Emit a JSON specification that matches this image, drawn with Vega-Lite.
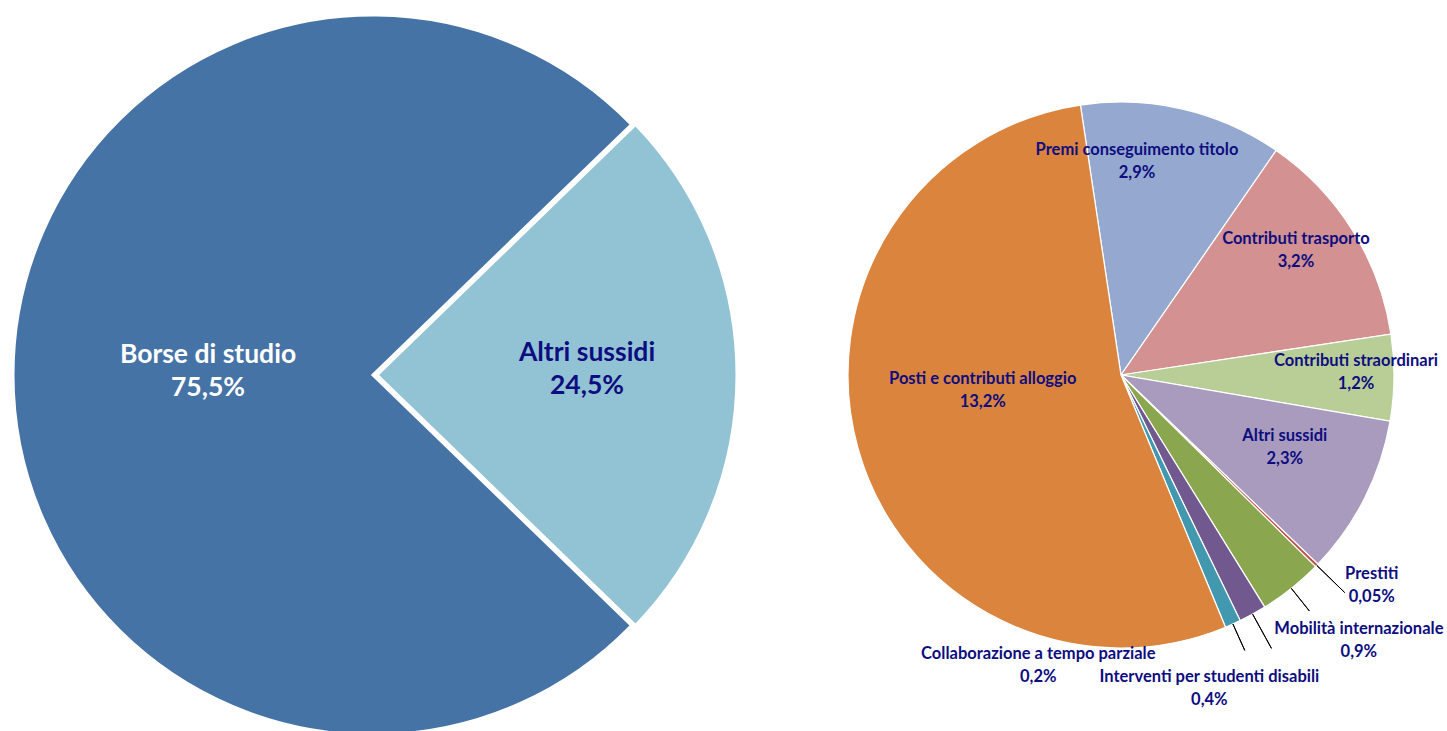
{
  "$schema": "https://vega.github.io/schema/vega-lite/v6.json",
  "padding": 0,
  "bounds": "flush",
  "spacing": 50,
  "background": "#ffffff",
  "config": {
    "view": {"stroke": null},
    "style": {
      "big": {"font": "Lato", "fontSize": 26.5, "fontWeight": "bold", "lineBreak": "\n", "lineHeight": 33, "align": "center", "baseline": "middle"},
      "lbl": {"font": "Lato", "fontSize": 16.5, "fontWeight": "bold", "lineBreak": "\n", "lineHeight": 23, "align": "center", "baseline": "middle"}
    }
  },
  "datasets": {
    "main": [
      {"k": 1, "name": "Altri sussidi", "value": 24.5, "label": "Altri sussidi\n24,5%"},
      {"k": 2, "name": "Borse di studio", "value": 75.5, "label": "Borse di studio\n75,5%"}
    ],
    "detail": [
      {"k": 1, "name": "Premi conseguimento titolo", "value": 2.94, "label": "Premi conseguimento titolo\n2,9%"},
      {"k": 2, "name": "Contributi trasporto", "value": 3.18, "label": "Contributi trasporto\n3,2%"},
      {"k": 3, "name": "Contributi straordinari", "value": 1.25, "label": "Contributi straordinari\n1,2%"},
      {"k": 4, "name": "Altri sussidi", "value": 2.32, "label": "Altri sussidi\n2,3%"},
      {"k": 5, "name": "Prestiti", "value": 0.05, "label": "Prestiti\n0,05%"},
      {"k": 6, "name": "Mobilità internazionale", "value": 0.93, "label": "Mobilità internazionale\n0,9%"},
      {"k": 7, "name": "Interventi per studenti disabili", "value": 0.40, "label": "Interventi per studenti disabili\n0,4%"},
      {"k": 8, "name": "Collaborazione a tempo parziale", "value": 0.23, "label": "Collaborazione a tempo parziale\n0,2%"},
      {"k": 9, "name": "Posti e contributi alloggio", "value": 13.20, "label": "Posti e contributi alloggio\n13,2%"}
    ]
  },
  "resolve": {"scale": {"theta": "independent", "color": "independent"}},
  "hconcat": [
    {
      "width": 746,
      "height": 750,
      "data": {"name": "main"},
      "encoding": {
        "theta": {"field": "value", "type": "quantitative", "stack": true, "scale": {"range": [0.8011, 7.0843]}},
        "order": {"field": "k", "type": "quantitative"},
        "detail": {"field": "name", "type": "nominal"}
      },
      "layer": [
        {
          "mark": {"type": "arc", "outerRadius": 360, "stroke": "#ffffff", "strokeWidth": 3},
          "encoding": {
            "color": {"field": "name", "type": "nominal", "legend": null, "scale": {"domain": ["Altri sussidi", "Borse di studio"], "range": ["#92c3d5", "#4673a6"]}},
            "opacity": {"condition": {"test": "datum.name === 'Borse di studio'", "value": 1}, "value": 0}
          }
        },
        {
          "mark": {"type": "arc", "outerRadius": 360, "stroke": "#ffffff", "strokeWidth": 3, "xOffset": 4},
          "encoding": {
            "color": {"field": "name", "type": "nominal", "legend": null, "scale": {"domain": ["Altri sussidi", "Borse di studio"], "range": ["#92c3d5", "#4673a6"]}},
            "opacity": {"condition": {"test": "datum.name === 'Altri sussidi'", "value": 1}, "value": 0}
          }
        },
        {
          "mark": {"type": "text", "style": "big", "radius": 165, "dy": -20, "fill": "#ffffff"},
          "encoding": {"text": {"condition": {"test": "datum.name === 'Borse di studio'", "field": "label"}, "value": ""}}
        },
        {
          "mark": {"type": "text", "style": "big", "radius": 210, "xOffset": 4, "dy": -21.5, "fill": "#0d0d80"},
          "encoding": {"text": {"condition": {"test": "datum.name === 'Altri sussidi'", "field": "label"}, "value": ""}}
        }
      ]
    },
    {
      "width": 650,
      "height": 750,
      "data": {"name": "detail"},
      "encoding": {
        "theta": {"field": "value", "type": "quantitative", "stack": true, "scale": {"range": [-0.14923, 6.13396]}},
        "order": {"field": "k", "type": "quantitative"},
        "detail": {"field": "name", "type": "nominal"}
      },
      "layer": [
        {
          "mark": {"type": "arc", "outerRadius": 273, "stroke": "#ffffff", "strokeWidth": 1.2},
          "encoding": {
            "color": {"field": "name", "type": "nominal", "legend": null, "scale": {
              "domain": ["Premi conseguimento titolo", "Contributi trasporto", "Contributi straordinari", "Altri sussidi", "Prestiti", "Mobilità internazionale", "Interventi per studenti disabili", "Collaborazione a tempo parziale", "Posti e contributi alloggio"],
              "range": ["#95a9d0", "#d39191", "#b9cd96", "#a99bbd", "#c0504d", "#8aa64e", "#71588f", "#4198af", "#db843d"]}}
          }
        },
        {
          "mark": {"type": "arc", "outerRadius": 312, "innerRadius": 273, "padAngle": 0.6, "fill": "transparent", "stroke": "#000000", "strokeWidth": 1},
          "encoding": {
            "strokeOpacity": {"condition": {"test": "indexof(['Prestiti', 'Interventi per studenti disabili'], datum.name) >= 0", "value": 1}, "value": 0}
          }
        },
        {
          "mark": {"type": "arc", "outerRadius": 302, "innerRadius": 273, "padAngle": 0.6, "fill": "transparent", "stroke": "#000000", "strokeWidth": 1},
          "encoding": {
            "strokeOpacity": {"condition": {"test": "indexof(['Mobilità internazionale', 'Collaborazione a tempo parziale'], datum.name) >= 0", "value": 1}, "value": 0}
          }
        },
        {
          "mark": {"type": "text", "style": "lbl", "radius": 212.5, "dx": -32, "dy": -17.5, "fill": "#0d0d80"},
          "encoding": {"text": {"condition": {"test": "datum.name === 'Premi conseguimento titolo'", "field": "label"}, "value": ""}}
        },
        {
          "mark": {"type": "text", "style": "lbl", "radius": 214.5, "dx": -7, "dy": -22.5, "fill": "#0d0d80"},
          "encoding": {"text": {"condition": {"test": "datum.name === 'Contributi trasporto'", "field": "label"}, "value": ""}}
        },
        {
          "mark": {"type": "text", "style": "lbl", "radius": 235, "dx": 0, "dy": -16, "fill": "#0d0d80"},
          "encoding": {"text": {"condition": {"test": "datum.name === 'Contributi straordinari'", "field": "label"}, "value": ""}}
        },
        {
          "mark": {"type": "text", "style": "lbl", "radius": 179, "dx": 4, "dy": -20, "fill": "#0d0d80"},
          "encoding": {"text": {"condition": {"test": "datum.name === 'Altri sussidi'", "field": "label"}, "value": ""}}
        },
        {
          "mark": {"type": "text", "style": "lbl", "radius": 129, "dx": -14, "dy": -31, "fill": "#0d0d80"},
          "encoding": {"text": {"condition": {"test": "datum.name === 'Posti e contributi alloggio'", "field": "label"}, "value": ""}}
        },
        {
          "mark": {"type": "text", "style": "lbl", "radius": 326, "dx": 17, "dy": -28, "fill": "#0d0d80"},
          "encoding": {"text": {"condition": {"test": "datum.name === 'Prestiti'", "field": "label"}, "value": ""}}
        },
        {
          "mark": {"type": "text", "style": "lbl", "radius": 330, "dx": 32, "dy": -4, "fill": "#0d0d80"},
          "encoding": {"text": {"condition": {"test": "datum.name === 'Mobilità internazionale'", "field": "label"}, "value": ""}}
        },
        {
          "mark": {"type": "text", "style": "lbl", "radius": 316, "dx": -64, "dy": 25, "fill": "#0d0d80"},
          "encoding": {"text": {"condition": {"test": "datum.name === 'Interventi per studenti disabili'", "field": "label"}, "value": ""}}
        },
        {
          "mark": {"type": "text", "style": "lbl", "radius": 230, "dx": -177, "dy": 69, "fill": "#0d0d80"},
          "encoding": {"text": {"condition": {"test": "datum.name === 'Collaborazione a tempo parziale'", "field": "label"}, "value": ""}}
        }
      ]
    }
  ]
}
